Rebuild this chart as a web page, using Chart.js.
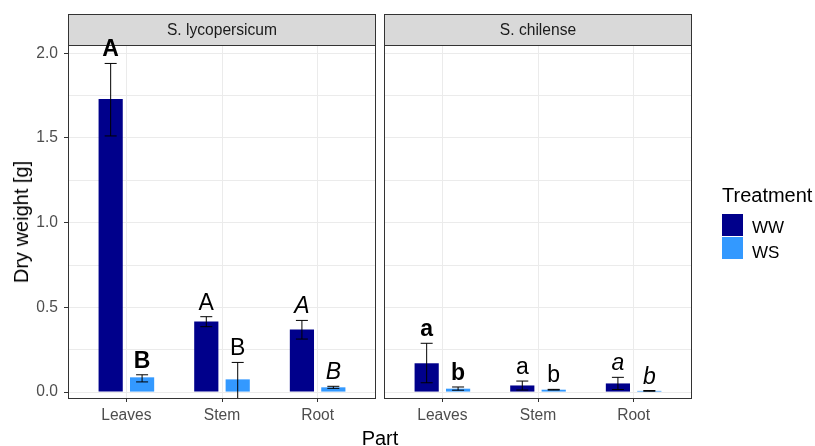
<!DOCTYPE html>
<html>
<head>
<meta charset="utf-8">
<script src="https://cdn.jsdelivr.net/npm/chart.js@4.4.0/dist/chart.umd.min.js"></script>
<style>
  body { margin: 0; width: 815px; height: 446px; position: relative; background: #fff; overflow: hidden;
         font-family: "Liberation Sans", Arial, sans-serif; }
  canvas { position: absolute; left: 0; top: 0; }
  .txt { position: absolute; white-space: nowrap; color: #000; }
  .key { position: absolute; width: 21px; height: 22px; }
</style>
</head>
<body>
<canvas id="panel1" width="815" height="446"></canvas>
<canvas id="panel2" width="815" height="446"></canvas>
<div class="txt" id="ytitle" style="font-size:20px;line-height:20px;left:21px;top:221.5px;transform:translate(-50%,-50%) rotate(-90deg);">Dry weight [g]</div>
<div class="txt" id="xtitle" style="font-size:20px;line-height:20px;left:380px;top:428px;transform:translateX(-50%);">Part</div>
<div id="legend"></div>

<script>
const FONT = '"Liberation Sans", Arial, sans-serif';

// categories
const species = ['S. lycopersicum', 'S. chilense'];
const parts = ['Leaves', 'Stem', 'Root'];
const treatments = ['WW', 'WS'];
const treatmentColors = ['#00008B', '#3399FF'];

// mean dry weight [g] per part (Leaves, Stem, Root)
const lycoWW = [1.73, 0.417, 0.370];
const lycoWS = [0.087, 0.075, 0.028];
const chilWW = [0.170, 0.039, 0.051];
const chilWS = [0.020, 0.014, 0.007];

// error bar limits
const lycoWWLow = [1.512, 0.386, 0.313];
const lycoWWHigh = [1.940, 0.445, 0.423];
const lycoWSLow = [0.060, -0.050, 0.022];
const lycoWSHigh = [0.102, 0.175, 0.034];
const chilWWLow = [0.055, 0.012, 0.015];
const chilWWHigh = [0.288, 0.065, 0.087];
const chilWSLow = [0.011, 0.012, 0.005];
const chilWSHigh = [0.030, 0.016, 0.009];

// significance letters [treatment][part], style per part
const lycoLetters = [['A', 'A', 'A'], ['B', 'B', 'B']];
const chilLetters = [['a', 'a', 'a'], ['b', 'b', 'b']];
const letterStyle = ['bold', 'normal', 'italic'];

// y axis
const yTicks = [0, 0.5, 1, 1.5, 2];
const yTickLabels = ['0.0', '0.5', '1.0', '1.5', '2.0'];
const yMinor = [0.25, 0.75, 1.25, 1.75];
const yMin = -0.035, yMax = 2.043;

const yGrid = yTicks.concat(yMinor).sort((a, b) => a - b);

// strip, error bars, border and letters drawn on top of the bars
function panelPlugin(name, lows, highs, letters) {
    return {
        id: 'panelDecor',
        afterDraw(chart) {
            const ctx = chart.ctx;
            const a = chart.chartArea;
            const y = chart.scales.y;

            // error bars, clipped to the panel
            ctx.save();
            ctx.beginPath();
            ctx.rect(a.left, a.top, a.right - a.left, a.bottom - a.top);
            ctx.clip();
            ctx.strokeStyle = '#000';
            ctx.lineWidth = 1;
            treatments.forEach((t, k) => {
                chart.getDatasetMeta(k).data.forEach((bar, i) => {
                    const yh = y.getPixelForValue(highs[k][i]);
                    const yl = y.getPixelForValue(lows[k][i]);
                    ctx.beginPath();
                    ctx.moveTo(bar.x, yh); ctx.lineTo(bar.x, yl);
                    ctx.moveTo(bar.x - 6, yh); ctx.lineTo(bar.x + 6, yh);
                    ctx.moveTo(bar.x - 6, yl); ctx.lineTo(bar.x + 6, yl);
                    ctx.stroke();
                });
            });
            ctx.restore();

            // panel border
            ctx.save();
            ctx.strokeStyle = '#333';
            ctx.lineWidth = 1;
            ctx.strokeRect(a.left - 0.5, a.top - 0.5, a.right - a.left + 1, a.bottom - a.top + 1);

            // strip
            ctx.fillStyle = '#D9D9D9';
            ctx.fillRect(a.left - 0.5, 14.5, a.right - a.left + 1, a.top - 15);
            ctx.strokeRect(a.left - 0.5, 14.5, a.right - a.left + 1, a.top - 15);
            ctx.fillStyle = '#1A1A1A';
            ctx.font = '15.6px ' + FONT;
            ctx.textAlign = 'center';
            ctx.textBaseline = 'middle';
            ctx.fillText(name, (a.left + a.right) / 2, 30.5);

            // letters
            ctx.fillStyle = '#000';
            ctx.textBaseline = 'alphabetic';
            treatments.forEach((t, k) => {
                chart.getDatasetMeta(k).data.forEach((bar, i) => {
                    ctx.font = letterStyle[i] + ' 23px ' + FONT;
                    ctx.fillText(letters[k][i], bar.x, y.getPixelForValue(highs[k][i]) - 7);
                });
            });
            ctx.restore();
        }
    };
}

function makePanel(id, name, means, lows, highs, letters, left, right, showY) {
    return new Chart(document.getElementById(id), {
        type: 'bar',
        data: {
            datasets: treatments.map((t, k) => ({
                label: t,
                data: means[k].map((v, i) => ({ x: i + 1, y: v })),
                backgroundColor: treatmentColors[k],
                borderWidth: 0,
                barPercentage: 0.77,
                categoryPercentage: 0.657
            }))
        },
        options: {
            responsive: false,
            animation: false,
            layout: { padding: { left: left, right: 815 - right, top: 46, bottom: 18 } },
            plugins: { legend: { display: false }, tooltip: { enabled: false } },
            scales: {
                x: {
                    type: 'linear',
                    min: 0.4,
                    max: 3.6,
                    offset: false,
                    afterBuildTicks: ax => { ax.ticks = parts.map((p, i) => ({ value: i + 1 })); },
                    afterFit: ax => { ax.height = 30; },
                    ticks: {
                        callback: (v, i) => parts[i],
                        color: '#4D4D4D',
                        font: { family: FONT, size: 15.6 },
                        padding: 4,
                        maxRotation: 0,
                        autoSkip: false
                    },
                    grid: { offset: false, color: '#EBEBEB', lineWidth: 1, tickColor: '#333', tickLength: 4 },
                    border: { display: false }
                },
                y: {
                    min: yMin,
                    max: yMax,
                    afterBuildTicks: ax => { ax.ticks = yGrid.map(v => ({ value: v })); },
                    afterFit: ax => { ax.width = showY ? 69 : 0; },
                    ticks: {
                        display: showY,
                        callback: v => {
                            const j = yTicks.indexOf(v);
                            return j >= 0 ? yTickLabels[j] : '';
                        },
                        color: '#4D4D4D',
                        font: { family: FONT, size: 15.6 },
                        padding: 6
                    },
                    grid: {
                        color: '#EBEBEB',
                        lineWidth: 1,
                        drawTicks: showY,
                        tickLength: 5,
                        tickColor: c => yTicks.indexOf(c.tick.value) >= 0 ? '#333' : 'rgba(0,0,0,0)'
                    },
                    border: { display: false }
                }
            }
        },
        plugins: [panelPlugin(name, lows, highs, letters)]
    });
}

makePanel('panel1', species[0], [lycoWW, lycoWS], [lycoWWLow, lycoWSLow], [lycoWWHigh, lycoWSHigh],
          lycoLetters, 0, 375, true);
makePanel('panel2', species[1], [chilWW, chilWS], [chilWWLow, chilWSLow], [chilWWHigh, chilWSHigh],
          chilLetters, 385, 691, false);

// legend
const legend = document.getElementById('legend');
const title = document.createElement('div');
title.className = 'txt';
title.style.cssText = 'font-size:20px;line-height:20px;left:722px;top:184.8px;';
title.textContent = 'Treatment';
legend.appendChild(title);
treatments.forEach((t, k) => {
    const key = document.createElement('div');
    key.className = 'key';
    key.style.left = '722px';
    key.style.top = (214 + k * 23.3) + 'px';
    key.style.background = treatmentColors[k];
    legend.appendChild(key);

    const lab = document.createElement('div');
    lab.className = 'txt';
    lab.style.cssText = 'font-size:17px;line-height:17px;left:752px;';
    lab.style.top = (218.9 + k * 25) + 'px';
    lab.textContent = t;
    legend.appendChild(lab);
});
</script>
</body>
</html>
